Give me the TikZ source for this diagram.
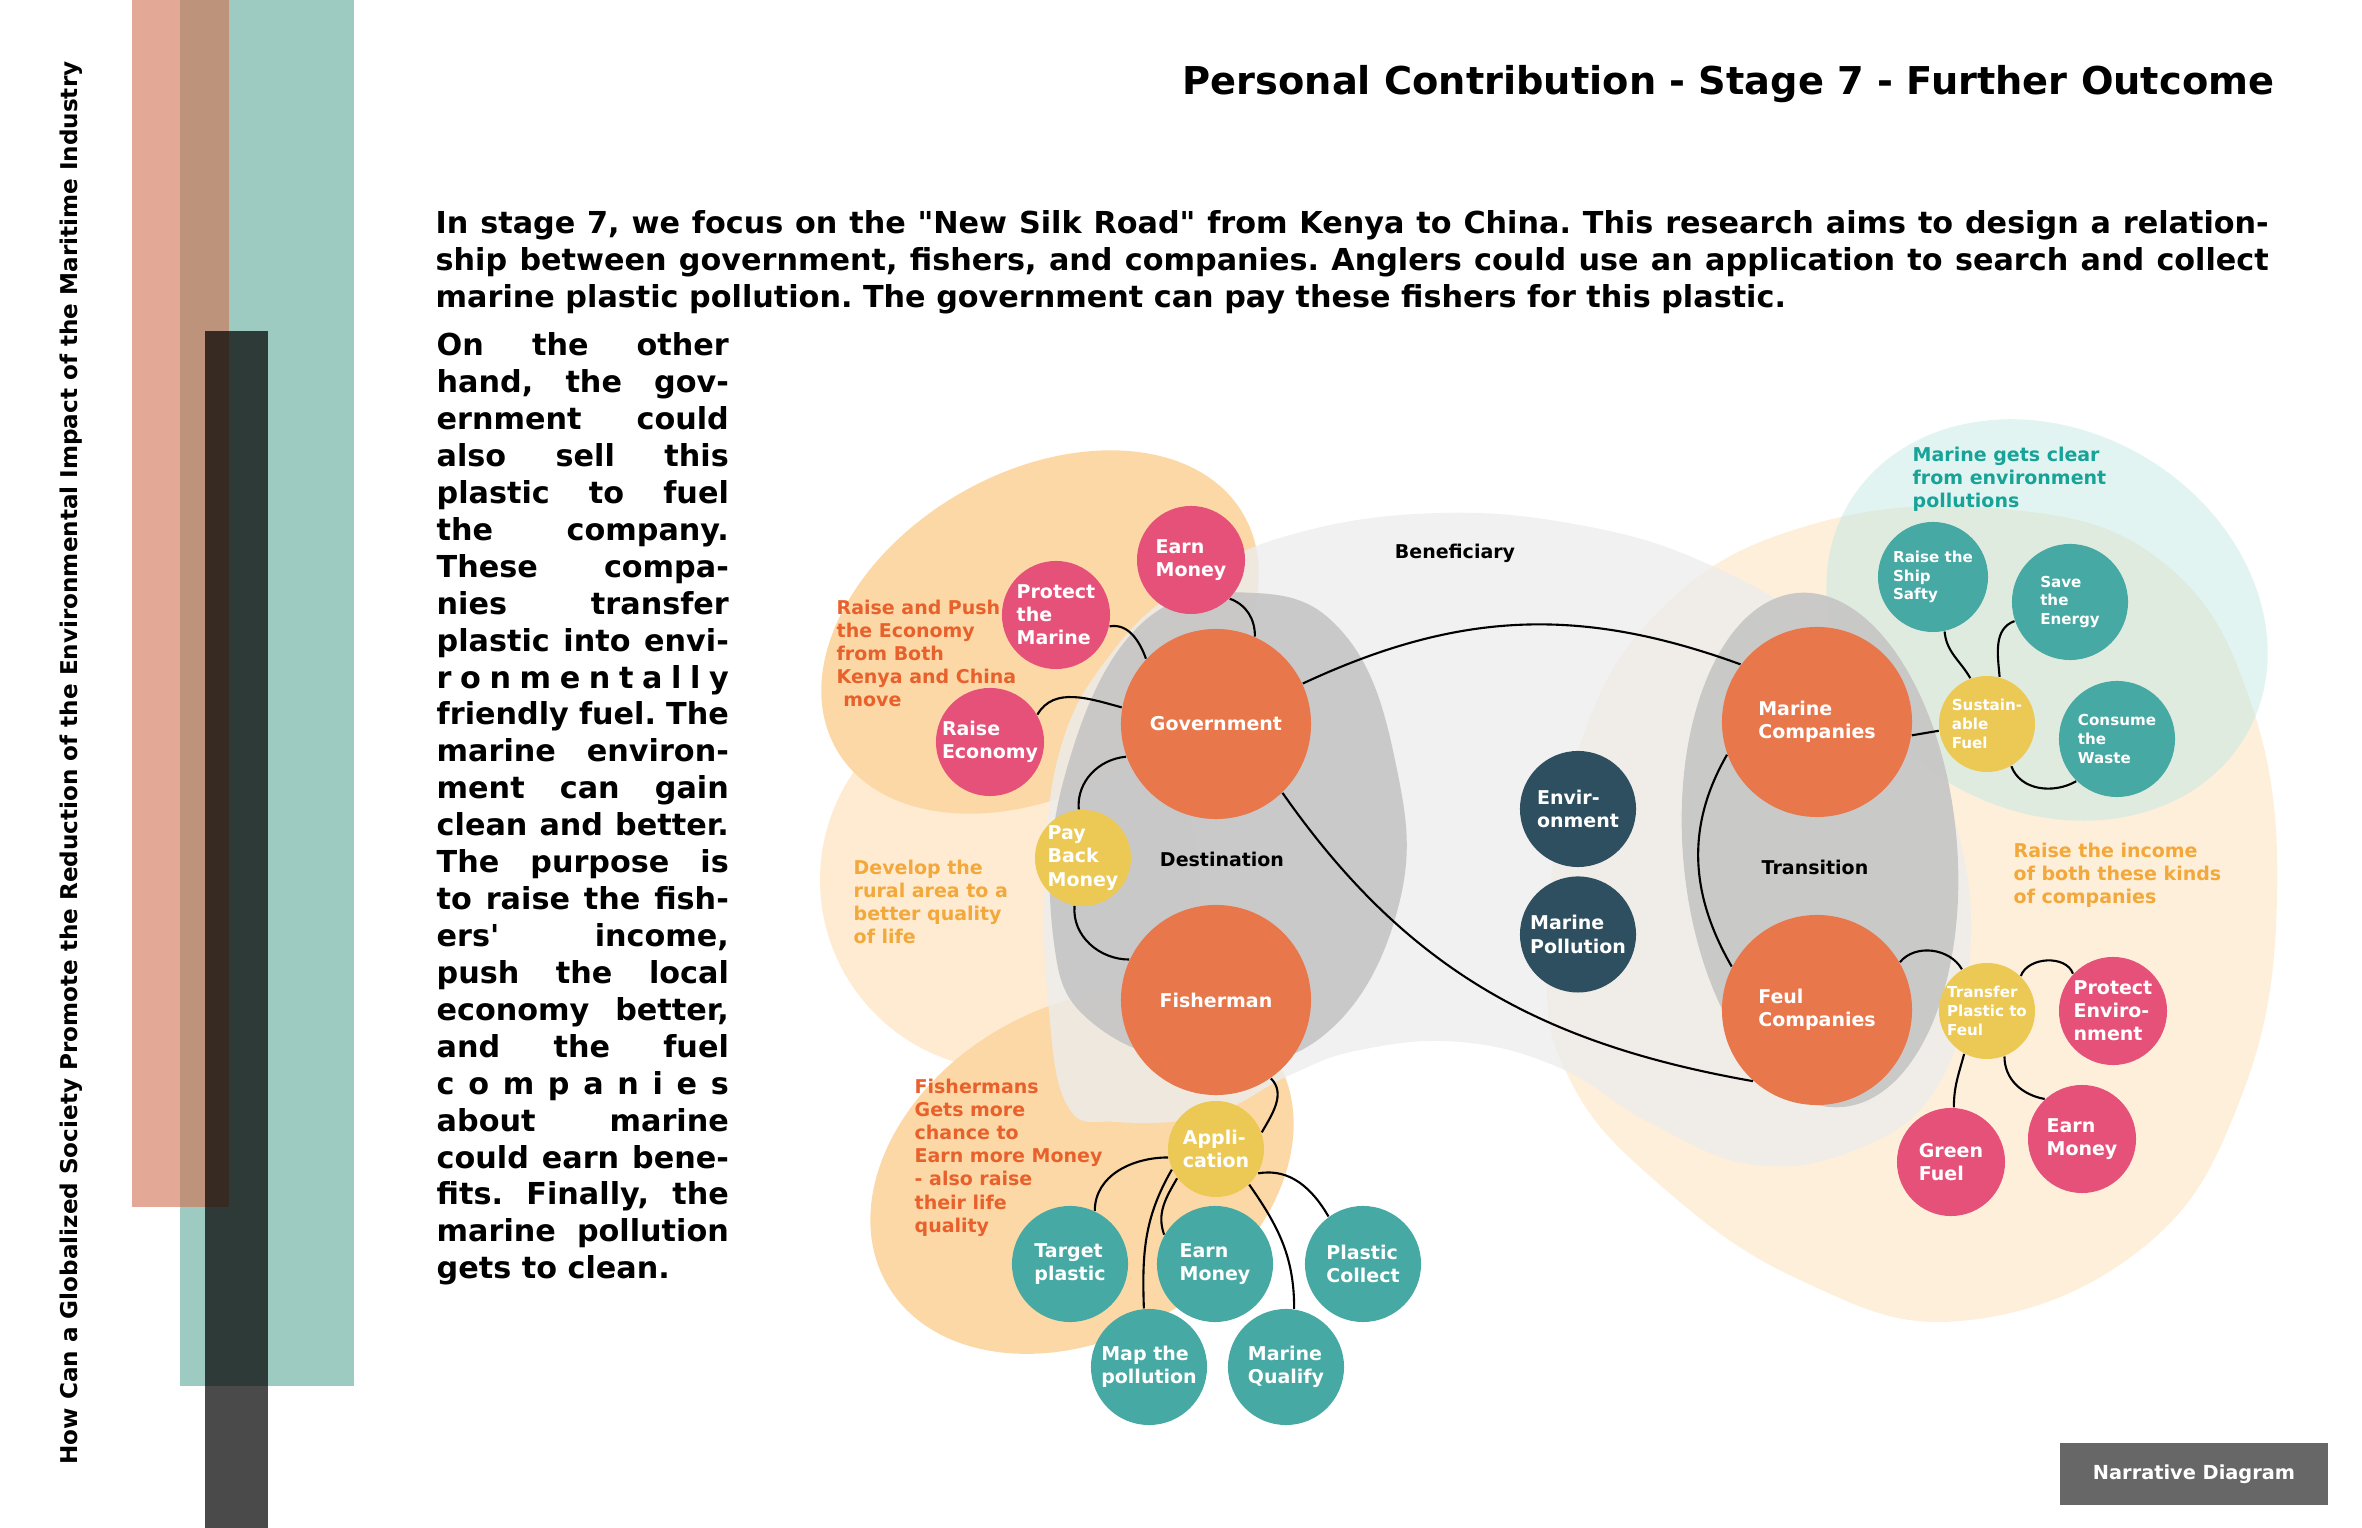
\documentclass[tikz,border=0pt]{standalone}
\usepackage{fontspec}
\setmainfont{DejaVu Sans}
\usetikzlibrary{positioning}

\definecolor{hubcol}{HTML}{E9774C}
\definecolor{petalcol}{HTML}{E6517A}
\definecolor{seedcol}{HTML}{ECC955}
\definecolor{leafcol}{HTML}{47A9A3}
\definecolor{deepcol}{HTML}{2E4F60}
\definecolor{peach}{HTML}{FBD8A5}
\definecolor{cream}{HTML}{FEEBD2}
\definecolor{creamright}{HTML}{FEEFDA}
\definecolor{mist}{HTML}{C4E9E4}
\definecolor{fog}{HTML}{EDEDED}
\definecolor{stone}{HTML}{C6C6C6}
\definecolor{redtext}{HTML}{E8612C}
\definecolor{ambertext}{HTML}{F2A83A}
\definecolor{tealtext}{HTML}{17A397}
\definecolor{salmonbar}{HTML}{E3A896}
\definecolor{greenbar}{HTML}{9ECBC1}
\definecolor{rustbar}{HTML}{BE937C}
\definecolor{boxgray}{HTML}{676767}

\newcommand{\sidejust}[1]{\makebox[2.92cm][s]{#1}}
\newcommand{\topjust}[1]{\makebox[18.32cm][s]{#1}}
\frenchspacing

\begin{document}
\begin{tikzpicture}[
    x=0.01cm, y=-0.01cm,
    bubble/.style={circle,inner sep=0pt,text=white,align=left,font=\bfseries\fontsize{5.4}{6.6}\selectfont},
    smallbubble/.style={bubble,font=\bfseries\fontsize{4.3}{5.3}\selectfont},
    hub/.style={bubble,fill=hubcol,minimum size=1.9cm},
    petal/.style={bubble,fill=petalcol,minimum size=1.08cm},
    seed/.style={bubble,fill=seedcol,minimum size=0.96cm},
    leaf/.style={bubble,fill=leafcol,minimum size=1.16cm},
    deep/.style={bubble,fill=deepcol,minimum size=1.16cm},
    link/.style={black,line width=0.6pt},
    note/.style={anchor=north west,inner sep=0pt,align=left,font=\bfseries\fontsize{5.4}{6.6}\selectfont},
    zone/.style={inner sep=0pt,font=\bfseries\fontsize{5.4}{6.6}\selectfont},
    bodytext/.style={anchor=north west,inner sep=0pt,align=left,font=\bfseries\fontsize{8.6}{10.5}\selectfont}
]
\useasboundingbox (0,0) rectangle (2362,1528);

% side bars
\fill[salmonbar] (132,0) rectangle (229,1207);
\fill[greenbar] (180,0) rectangle (354,1386);
\fill[rustbar] (180,0) rectangle (229,1207);
\fill[black,fill opacity=0.71] (205,331) rectangle (268,1528);
\node[rotate=90,inner sep=0pt,font=\bfseries\fontsize{6.57}{7.5}\selectfont] (sidetitle) at (71,763)
  {How Can a Globalized Society Promote the Reduction of the Environmental Impact of the Maritime Industry};

% title and texts
\node[anchor=base east,inner sep=0pt,font=\bfseries\fontsize{10.9}{12.5}\selectfont] (title) at (2275,95)
  {Personal Contribution - Stage 7 - Further Outcome};
\node[bodytext] (intro) at (435,210)
  {\topjust{In stage 7, we focus on the \textquotedbl New Silk Road\textquotedbl{} from Kenya to China. This research aims to design a relation-}\\
   \topjust{ship between government, fishers, and companies. Anglers could use an application to search and collect}\\
   marine plastic pollution. The government can pay these fishers for this plastic.};
\node[bodytext] (story) at (436,332)
  {\sidejust{On the other}\\ \sidejust{hand, the gov-}\\ \sidejust{ernment could}\\ \sidejust{also sell this}\\
   \sidejust{plastic to fuel}\\ \sidejust{the company.}\\ \sidejust{These compa-}\\ \sidejust{nies transfer}\\
   \sidejust{plastic into envi-}\\ \sidejust{r o n m e n t a l l y}\\ \sidejust{friendly fuel. The}\\
   \sidejust{marine environ-}\\ \sidejust{ment can gain}\\ \sidejust{clean and better.}\\ \sidejust{The purpose is}\\
   \sidejust{to raise the fish-}\\ \sidejust{ers\textquotesingle{} income,}\\ \sidejust{push the local}\\
   \sidejust{economy better,}\\ \sidejust{and the fuel}\\ \sidejust{c o m p a n i e s}\\ \sidejust{about marine}\\
   \sidejust{could earn bene-}\\ \sidejust{fits. Finally, the}\\ \sidejust{marine pollution}\\ gets to clean.};

% background zones
\fill[cream] (1010,880) circle [radius=190];
\fill[peach,rotate around={30:(1040,632)}] (1040,632) ellipse [x radius=235,y radius=160];
\fill[peach,rotate around={30:(1082,1172)}] (1082,1172) ellipse [x radius=225,y radius=165];
\fill[creamright] plot[smooth cycle,tension=0.7] coordinates {(2004,509) (2160,560) (2250,700) (2277,900)
  (2240,1100) (2140,1250) (1960,1321) (1800,1280) (1660,1185) (1570,1080) (1547,960) (1575,760) (1660,610) (1810,525)};
\fill[mist,fill opacity=0.5,rotate around={-30:(2047,620)}] (2047,620) ellipse [x radius=230,y radius=190];
\fill[fog,fill opacity=0.8] plot[smooth cycle,tension=0.7] coordinates {(1117,1122) (1067,1105) (1048,1000)
  (1045,880) (1060,750) (1110,655) (1185,585) (1290,535) (1440,513) (1590,527) (1710,565) (1810,625) (1900,720)
  (1960,840) (1968,980) (1935,1090) (1860,1148) (1755,1165) (1650,1123) (1560,1068) (1460,1042) (1360,1050)
  (1290,1075) (1210,1115)};
\fill[stone,fill opacity=0.92] plot[smooth cycle,tension=0.7] coordinates {(1255,593) (1345,635) (1395,760)
  (1400,900) (1330,1030) (1215,1065) (1095,1025) (1053,935) (1065,775) (1140,625)};
\fill[stone,fill opacity=0.92,rotate around={5:(1820,850)}] (1820,850) ellipse [x radius=137,y radius=258];

% zone labels
\node[zone] (beneficiary) at (1455,553) {Beneficiary};
\node[zone] (destination) at (1222,859) {Destination};
\node[zone] (transition) at (1815,867) {Transition};
\node[note,text=redtext] (pushnote) at (836,599) {Raise and Push\\the Economy\\from Both\\Kenya and China\\\ move};
\node[note,text=ambertext] (ruralnote) at (853,859) {Develop the\\rural area to a\\better quality\\of life};
\node[note,text=redtext] (fishnote) at (914,1078) {Fishermans\\Gets more\\chance to\\Earn more Money\\- also raise\\their life\\quality};
\node[note,text=tealtext] (clearnote) at (1912,446) {Marine gets clear\\from environment\\pollutions};
\node[note,text=ambertext] (incomenote) at (2013,842) {Raise the income\\of both these kinds\\of companies};

% main actors
\node[hub] (gov) at (1216,724) {Government};
\node[hub] (fisher) at (1216,1000) {Fisherman};
\node[hub] (marineco) at (1817,722) {Marine\\Companies};
\node[hub] (fuelco) at (1817,1010) {Feul\\Companies};

% government side
\node[petal] (earn) at (1191,560) {Earn\\Money};
\node[petal] (protect) at (1056,615) {Protect\\the\\Marine};
\node[petal] (economy) at (990,742) {Raise\\Economy};
\node[seed] (payback) at (1083,858) {Pay\\Back\\Money};

% fisherman side
\node[seed] (app) at (1216,1149) {Appli-\\cation};
\node[leaf] (target) at (1070,1264) {Target\\plastic};
\node[leaf] (earnapp) at (1215,1264) {Earn\\Money};
\node[leaf] (collect) at (1363,1264) {Plastic\\Collect};
\node[leaf] (map) at (1149,1367) {Map the\\pollution};
\node[leaf] (qualify) at (1286,1367) {Marine\\Qualify};

% beneficiaries
\node[deep] (envir) at (1578,809) {Envir-\\onment};
\node[deep,below=0.08cm of envir] (pollution) {Marine\\Pollution};

% marine companies side
\node[leaf,smallbubble,minimum size=1.1cm] (safety) at (1933,577) {Raise the\\Ship\\Safty};
\node[leaf,smallbubble] (energy) at (2070,602) {Save\\the\\Energy};
\node[seed,smallbubble] (susfuel) at (1987,724) {Sustain-\\able\\Fuel};
\node[leaf,smallbubble] (waste) at (2117,739) {Consume\\the\\Waste};

% fuel companies side
\node[seed,smallbubble] (transfer) at (1987,1011) {Transfer\\Plastic to\\Feul};
\node[petal] (protenv) at (2113,1011) {Protect\\Enviro-\\nment};
\node[petal] (earnfuel) at (2082,1139) {Earn\\Money};
\node[petal] (green) at (1951,1162) {Green\\Fuel};

% links
\draw[link] (earn.-45) to[out=-20,in=90] (gov.66);
\draw[link] (protect.-12) to[out=10,in=110] (gov.137);
\draw[link] (economy.30) to[out=60,in=165] (gov.170);
\draw[link] (gov.200) to[out=185,in=95] (payback.95);
\draw[link] (payback.-100) to[out=-95,in=180] (fisher.155);
\draw[link] (fisher.-55) to[out=-45,in=60] (app.20);
\draw[link] (app.190) to[out=180,in=90] (target.65);
\draw[link] (app.205) to[out=240,in=92] (map.95);
\draw[link] (app.217) to[out=240,in=110] (earnapp.150);
\draw[link] (app.-47) to[out=-55,in=90] (qualify.82);
\draw[link] (app.-30) to[out=10,in=120] (collect.126);
\draw[link] (gov.25) to[out=25,in=160] (marineco.143);
\draw[link] (gov.-46) to[out=-55,in=170] (fuelco.-132);
\draw[link] (marineco.200) to[out=240,in=120] (fuelco.153);
\draw[link] (marineco.-8) -- (susfuel.188);
\draw[link] (susfuel.110) to[out=120,in=-85] (safety.-78);
\draw[link] (susfuel.75) to[out=95,in=200] (energy.199);
\draw[link] (susfuel.-60) to[out=-70,in=-150] (waste.-134);
\draw[link] (fuelco.30) to[out=50,in=120] (transfer.121);
\draw[link] (transfer.46) to[out=70,in=110] (protenv.137);
\draw[link] (transfer.-118) to[out=-105,in=90] (green.87);
\draw[link] (transfer.-69) to[out=-90,in=170] (earnfuel.133);

% footer tag
\node[fill=boxgray,text=white,minimum width=2.68cm,minimum height=0.62cm,inner sep=0pt,
  font=\bfseries\fontsize{5.5}{6.5}\selectfont] (tag) at (2194,1474) {Narrative Diagram};
\end{tikzpicture}
\end{document}
